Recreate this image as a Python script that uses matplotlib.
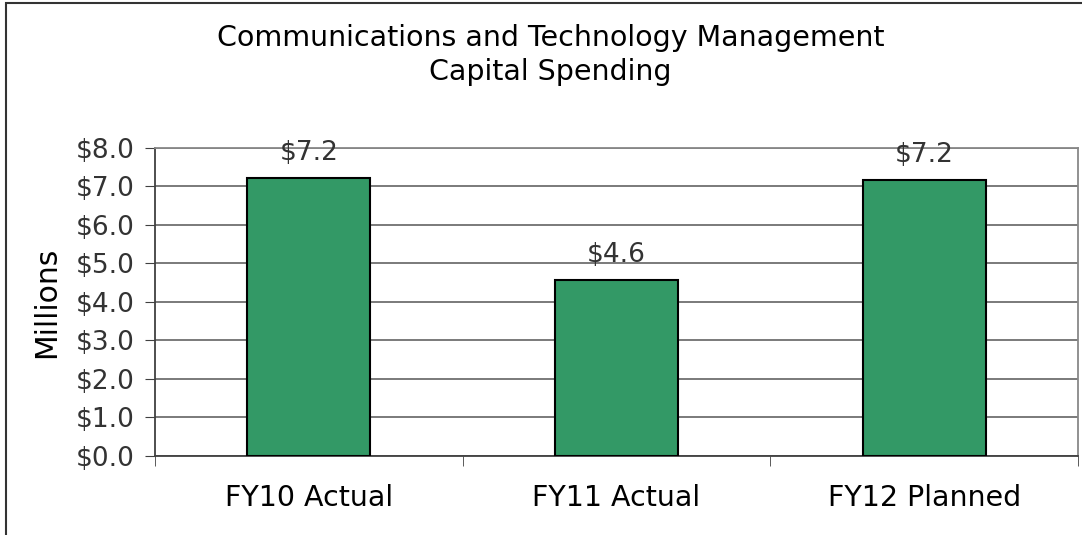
import matplotlib
matplotlib.use("Agg")
from matplotlib import pyplot as plt
from matplotlib.patches import Rectangle


# --------------------------- DATA ---------------------------

categories = ["FY10 Actual", "FY11 Actual", "FY12 Planned"]
spending = [7.22, 4.57, 7.17]
bar_labels = ["$7.2", "$4.6", "$7.2"]
y_ticks = [0, 1, 2, 3, 4, 5, 6, 7, 8]


# --------------------------- FIGURE ---------------------------

fig = plt.figure(figsize=(10.82, 5.35), dpi=100)
ax = fig.add_axes([0.1433, 0.1477, 0.853, 0.5757])

x = range(len(categories))
ax.bar(x, spending, width=0.4, color="#339966", edgecolor="black",
       linewidth=1.5, zorder=3)

for i, (v, lab) in enumerate(zip(spending, bar_labels)):
    ax.annotate(lab, (i, v), xytext=(0, 18), textcoords="offset points",
                ha="center", va="center", fontsize=19, color="#333333",
                zorder=4)

ax.set_xlim(-0.5, len(categories) - 0.5)
ax.set_ylim(0, 8)
ax.set_yticks(y_ticks)
ax.set_yticklabels(["${:.1f}".format(t) for t in y_ticks],
                   fontsize=19, color="#333333")
ax.set_xticks(x)
ax.set_xticklabels(categories, fontsize=20.5, color="black")
ax.tick_params(axis="x", length=0, pad=20)
ax.set_xticks([i + 0.5 for i in range(-1, len(categories))], minor=True)
ax.tick_params(axis="x", which="minor", length=7, color="#404040")
ax.tick_params(axis="y", length=7, color="#404040", pad=8)

ax.grid(axis="y", color="#707070", linewidth=1.3, zorder=0)
ax.set_axisbelow(True)
ax.spines["left"].set_color("#404040")
ax.spines["bottom"].set_color("#404040")
ax.spines["top"].set_color("#888888")
ax.spines["right"].set_color("#888888")
for s in ax.spines.values():
    s.set_linewidth(1.3)

ax.set_ylabel("Millions", fontsize=21.5, color="black", labelpad=10)

fig.text(0.509, 0.929, "Communications and Technology Management",
         ha="center", va="center", fontsize=20.5)
fig.text(0.509, 0.866, "Capital Spending", ha="center", va="center",
         fontsize=20.5)

# outer border of the chart area
fig.patches.append(Rectangle((6 / 1082, -0.05), 1.2, 1.05 - 3 / 535,
                             transform=fig.transFigure, fill=False,
                             edgecolor="#333333", linewidth=1.5))

fig.savefig("out.png", dpi=100)
